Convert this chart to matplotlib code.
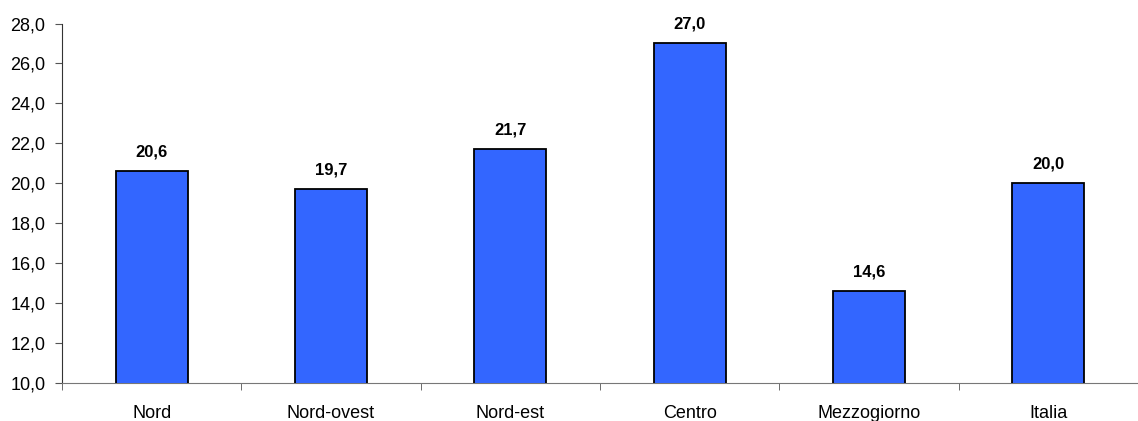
import matplotlib.pyplot as plt
import numpy as np

regions = ['Nord', 'Nord-ovest', 'Nord-est', 'Centro', 'Mezzogiorno', 'Italia']
values = [20.6, 19.7, 21.7, 27.0, 14.6, 20.0]
yticks = [10, 12, 14, 16, 18, 20, 22, 24, 26, 28]

plt.rcParams['font.family'] = ['Liberation Sans', 'DejaVu Sans']

fig = plt.figure(figsize=(11.38, 4.21), dpi=100)
ax = fig.add_axes([62 / 1138, 38 / 421, 1 - 62 / 1138, (383 - 23.5) / 421])

x = np.arange(len(regions))
ax.bar(x, values, width=0.4, color='#3366FF', edgecolor='black', linewidth=1.3, zorder=3)

for xi, v in zip(x, values):
    ax.text(xi, v + 0.6, f'{v:.1f}'.replace('.', ','), ha='center', va='bottom',
            fontsize=12, fontweight='bold')

ax.set_ylim(10, 28)
ax.set_xlim(-0.5, -0.5 + (1138 - 62) / 181.2)
ax.set_yticks(yticks)
ax.set_yticklabels([f'{t:.1f}'.replace('.', ',') for t in yticks], fontsize=13)

# category labels centred, tick marks between categories
ax.set_xticks(x)
ax.set_xticklabels(regions, fontsize=13)
ax.tick_params(axis='x', length=0, pad=16)
ax.set_xticks(np.arange(len(regions) + 1) - 0.5, minor=True)
ax.tick_params(axis='x', which='minor', length=5, color='#555555')
ax.tick_params(axis='y', length=5, color='#555555', pad=7)

for s in ['top', 'right']:
    ax.spines[s].set_visible(False)
ax.spines['left'].set_color('#333333')
ax.spines['bottom'].set_color('#777777')

fig.savefig('out.png', dpi=100)
